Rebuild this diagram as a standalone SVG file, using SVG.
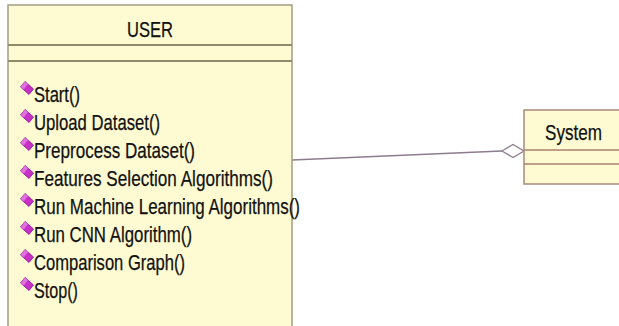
<svg xmlns="http://www.w3.org/2000/svg" xmlns:xlink="http://www.w3.org/1999/xlink" width="619" height="326" viewBox="0 0 619 326">
  <style>
    .box { fill: #fefbd2; stroke: #a29c86; stroke-width: 1.5; }
    .sep { stroke: #8e8a6c; stroke-width: 2; }
    .sys { fill: #fefbd2; stroke: #a88a7a; stroke-width: 1.5; }
    .sysSep { stroke: #a88270; stroke-width: 1.5; }
    .title { font-family: "Liberation Sans", Arial, sans-serif; font-size: 22px; fill: #111; stroke: #111; stroke-width: 0.25; text-anchor: middle; }
    .op { font-family: "Liberation Sans", Arial, sans-serif; font-size: 21.5px; fill: #111; stroke: #111; stroke-width: 0.25; }
    .assoc { stroke: #8c7c8c; stroke-width: 1.5; fill: none; }
    .agg { fill: #ffffff; stroke: #8c7c8c; stroke-width: 1.3; }
  </style>
  <defs>
    <!-- public operation marker, anchored at the text baseline start -->
    <g id="opIcon">
      <polygon points="-13.5,-15 -9,-20.5 -0.5,-13 -5,-7.5" fill="#c630c6" stroke="#8a108a" stroke-width="0.8"/>
      <polygon points="-13.5,-15 -9,-20.5 -6,-17.8 -10.4,-12.6" fill="#e070e0"/>
    </g>
  </defs>

  <rect width="619" height="326" fill="#ffffff"/>

  <!-- association with aggregation diamond at System -->
  <g id="connectors">
    <line class="assoc" x1="292" y1="160" x2="502" y2="151"/>
    <polygon class="agg" points="502,151 513,144.5 524,151 513,157.5"/>
  </g>

  <g id="user">
    <rect class="box" x="8" y="5" width="284" height="325"/>
    <line class="sep" x1="8" y1="45" x2="292" y2="45"/>
    <line class="sep" x1="8" y1="61" x2="292" y2="61"/>
    <text class="title" x="150" y="36.5" textLength="46" lengthAdjust="spacingAndGlyphs">USER</text>

    <use xlink:href="#opIcon" x="34" y="102"/>
    <text class="op" x="34" y="102" textLength="46" lengthAdjust="spacingAndGlyphs">Start()</text>
    <use xlink:href="#opIcon" x="34" y="130"/>
    <text class="op" x="34" y="130" textLength="126" lengthAdjust="spacingAndGlyphs">Upload Dataset()</text>
    <use xlink:href="#opIcon" x="34" y="158"/>
    <text class="op" x="34" y="158" textLength="161" lengthAdjust="spacingAndGlyphs">Preprocess Dataset()</text>
    <use xlink:href="#opIcon" x="34" y="186"/>
    <text class="op" x="34" y="186" textLength="239" lengthAdjust="spacingAndGlyphs">Features Selection Algorithms()</text>
    <use xlink:href="#opIcon" x="34" y="214"/>
    <text class="op" x="34" y="214" textLength="266" lengthAdjust="spacingAndGlyphs">Run Machine Learning Algorithms()</text>
    <use xlink:href="#opIcon" x="34" y="242"/>
    <text class="op" x="34" y="242" textLength="158" lengthAdjust="spacingAndGlyphs">Run CNN Algorithm()</text>
    <use xlink:href="#opIcon" x="34" y="270"/>
    <text class="op" x="34" y="270" textLength="151" lengthAdjust="spacingAndGlyphs">Comparison Graph()</text>
    <use xlink:href="#opIcon" x="34" y="298"/>
    <text class="op" x="34" y="298" textLength="44" lengthAdjust="spacingAndGlyphs">Stop()</text>
  </g>

  <g id="system">
    <rect class="sys" x="524" y="110" width="100" height="74"/>
    <line class="sysSep" x1="524" y1="150" x2="624" y2="150"/>
    <line class="sysSep" x1="524" y1="164" x2="624" y2="164"/>
    <text class="title" x="573.5" y="139.5" font-size="21" textLength="57" lengthAdjust="spacingAndGlyphs">System</text>
  </g>
</svg>
